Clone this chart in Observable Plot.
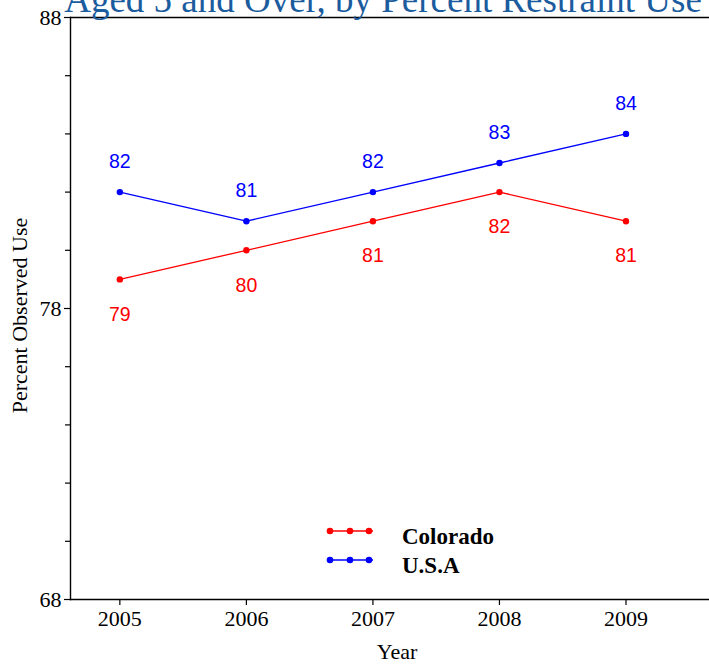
<!DOCTYPE html>
<html>
<head>
<meta charset="utf-8">
<script src="https://cdn.jsdelivr.net/npm/d3@7"></script>
<script src="https://cdn.jsdelivr.net/npm/@observablehq/plot@0.6"></script>
<style>
  body { margin: 0; background: #fff; }
  #chart svg { display: block; }
</style>
</head>
<body>
<div id="chart"></div>
<script>
const title = "Aged 5 and Over, by Percent Restraint Use";
const years = [2005, 2006, 2007, 2008, 2009];
const seriesNames = ["Colorado", "U.S.A"];
const colorado = [79, 80, 81, 82, 81];
const usa = [82, 81, 82, 83, 84];
const seriesColors = ["#ff0000", "#0000ff"];
const yMajorTicks = [68, 78, 88];
const yMinorTicks = [70, 72, 74, 76, 80, 82, 84, 86];

const rows = [
  ...years.map((y, i) => ({year: y, value: colorado[i], series: seriesNames[0]})),
  ...years.map((y, i) => ({year: y, value: usa[i], series: seriesNames[1]}))
];
const coRows = rows.filter(d => d.series === seriesNames[0]);
const usRows = rows.filter(d => d.series === seriesNames[1]);

const serif = "'Liberation Serif', 'Times New Roman', serif";
const sans = "'Liberation Sans', Arial, Helvetica, sans-serif";

const chart = Plot.plot({
  width: 709,
  height: 664,
  marginLeft: 70,
  marginRight: 0,
  marginTop: 17,
  marginBottom: 65,
  style: {fontFamily: serif, background: "#fff", overflow: "hidden"},
  x: {domain: [2004.61, 2009.66]},
  y: {domain: [68, 88]},
  color: {domain: seriesNames, range: seriesColors},
  marks: [
    Plot.ruleY([88], {stroke: "#000", strokeWidth: 1.3}),
    Plot.axisY(yMinorTicks, {tickSize: 5, tickFormat: () => "", label: null, strokeWidth: 1.2}),
    Plot.axisY(yMajorTicks, {tickSize: 6, tickPadding: 3, fontSize: 22, label: null, fill: "#000", strokeWidth: 1.2}),
    Plot.axisX(years, {tickSize: 6, tickPadding: 5, fontSize: 22, tickFormat: "d", label: null, fill: "#000", strokeWidth: 1.2}),
    Plot.frame({anchor: "left", stroke: "#000", strokeWidth: 1.4}),
    Plot.frame({anchor: "bottom", stroke: "#000", strokeWidth: 1.4}),
    Plot.text(["Year"], {frameAnchor: "bottom", dx: 7, dy: 59, lineAnchor: "bottom", fontSize: 22, fill: "#000"}),
    Plot.text(["Percent Observed Use"], {frameAnchor: "left", textAnchor: "middle", rotate: -90, dx: -51, dy: 7, fontSize: 22, fill: "#000"}),
    Plot.text([title], {frameAnchor: "top", dx: -7, dy: -6, lineAnchor: "bottom", fontSize: 37, fill: "#1b5c9e"}),
    Plot.line(rows, {x: "year", y: "value", stroke: "series", z: "series", strokeWidth: 1.3}),
    Plot.dot(rows, {x: "year", y: "value", fill: "series", r: 3.2}),
    Plot.text(usRows, {x: "year", y: "value", text: d => String(d.value), dy: -30, fill: seriesColors[1], fontSize: 19.5, fontFamily: sans}),
    Plot.text(coRows, {x: "year", y: "value", text: d => String(d.value), dy: 35, fill: seriesColors[0], fontSize: 19.5, fontFamily: sans})
  ]
});

// Legend inside the plot
const svg = d3.select(chart);
const lg = svg.append("g");
seriesNames.forEach((name, i) => {
  const cy = 531 + i * 29;
  const g = lg.append("g");
  g.append("line").attr("x1", 327).attr("x2", 373).attr("y1", cy).attr("y2", cy)
    .attr("stroke", seriesColors[i]).attr("stroke-width", 1.6);
  [330, 350, 369].forEach(cx => g.append("circle").attr("cx", cx).attr("cy", cy).attr("r", 3.3).attr("fill", seriesColors[i]));
  g.append("text").attr("x", 402).attr("y", cy + 5).attr("dy", "0.35em")
    .attr("text-anchor", "start")
    .attr("font-family", serif).attr("font-weight", "bold").attr("font-size", 23).attr("fill", "#000")
    .text(name);
});

document.getElementById("chart").appendChild(chart);
</script>
</body>
</html>
